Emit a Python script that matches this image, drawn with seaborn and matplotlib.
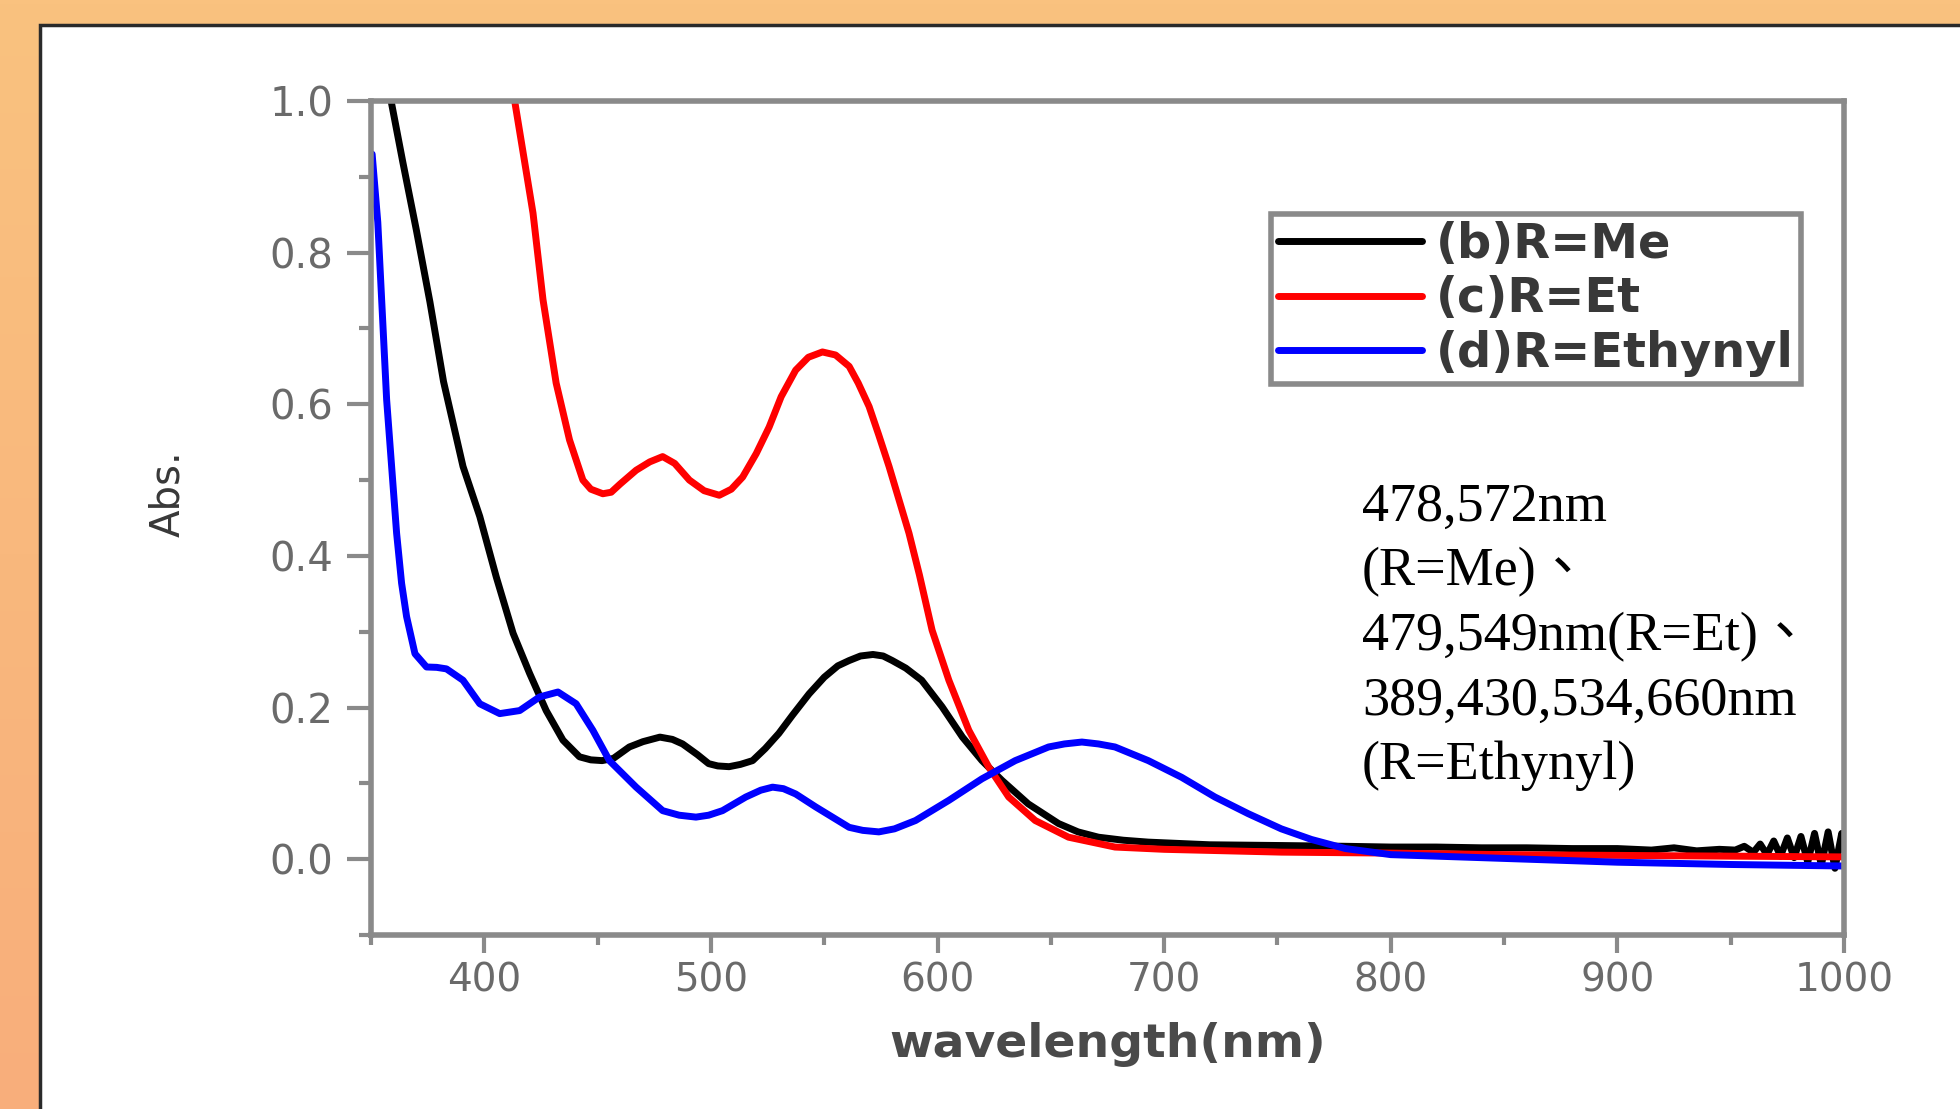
import numpy as np
import pandas as pd
import matplotlib
matplotlib.use("Agg")
import matplotlib.pyplot as plt
from matplotlib.patches import Rectangle
from matplotlib.ticker import MultipleLocator, FixedLocator
import seaborn as sns

# ---------------- data ----------------
me_wl = [356.5, 359, 364, 370, 376, 382, 390.6, 398, 405.3, 412.7, 420, 427.3, 434.7, 442,
         447, 452, 457, 464, 470, 477.5, 483, 487.5, 494, 499, 503, 508, 513, 518.4, 524,
         530, 536, 543.3, 550, 556, 561, 566, 571.5, 576, 580, 586, 593, 602,
         611, 619.6, 628.4, 640, 653.4, 662, 671, 682, 693, 720, 751.7, 780, 800, 820, 840,
         860, 880, 900, 915, 925, 935, 945, 952, 956, 960, 963, 966, 969, 972, 975, 978,
         981, 984, 987, 990, 993, 996, 999, 1000]
me_abs = [1.03, 0.998, 0.92, 0.83, 0.735, 0.63, 0.518, 0.452, 0.372, 0.298, 0.245, 0.196,
          0.157, 0.135, 0.131, 0.130, 0.133, 0.148, 0.155, 0.161, 0.158, 0.152, 0.138, 0.126,
          0.123, 0.122, 0.125, 0.130, 0.146, 0.166, 0.19, 0.218, 0.240, 0.255, 0.262, 0.268,
          0.270, 0.268, 0.262, 0.252, 0.236, 0.201, 0.161, 0.130, 0.104, 0.073, 0.047, 0.036,
          0.029, 0.025, 0.0225, 0.019, 0.018, 0.017, 0.016, 0.016, 0.015, 0.015, 0.014, 0.014,
          0.012, 0.015, 0.011, 0.013, 0.012, 0.017, 0.009, 0.020, 0.006, 0.024, 0.004, 0.028,
          0.002, 0.030, -0.004, 0.034, -0.008, 0.036, -0.012, 0.034, 0.012]

et_wl = [410, 413.4, 421.5, 425.9, 431.7, 437.6, 443.5, 447, 452.3, 456, 460, 467, 473,
         478.7, 484, 490.5, 497, 503.7, 509, 514, 520, 525.7, 531, 537.4, 543, 549.2, 555,
         561, 565, 569.8, 574, 578.6, 587.4, 592, 597.6, 605, 613.8, 622.6,
         631.4, 643.1, 657.8, 678.3, 700, 751.7, 800, 850, 900, 950, 1000]
et_abs = [1.05, 1.0, 0.852, 0.738, 0.628, 0.553, 0.500, 0.488, 0.482, 0.484, 0.495, 0.513,
          0.524, 0.531, 0.522, 0.500, 0.486, 0.480, 0.488, 0.504, 0.535, 0.570, 0.610, 0.645,
          0.662, 0.669, 0.665, 0.650, 0.628, 0.597, 0.560, 0.518, 0.430, 0.375, 0.302, 0.236,
          0.170, 0.1215, 0.082, 0.051, 0.029, 0.016, 0.013, 0.0093, 0.008, 0.006, 0.005,
          0.004, 0.003]

eth_wl = [350.5, 353, 355, 356.9, 359.1, 361.3, 363.5, 365.7, 369.4, 374.5, 379, 383.3, 390.6,
          398, 406.8, 415.6, 424.4, 432.5, 440.5, 447.9, 455.2, 467, 478.7, 486, 493.4, 499,
          505.1, 515.4, 522, 527.2, 532, 537.4, 546.2, 561, 567, 574.1, 581, 590.3, 605, 619.6,
          634.3, 649, 656, 663.7, 671, 678.3, 693, 707.7, 722.4, 737.1, 751.7, 765, 780, 800,
          850, 900, 950, 1000]
eth_abs = [0.93, 0.84, 0.72, 0.606, 0.518, 0.430, 0.364, 0.320, 0.271, 0.2535, 0.253, 0.251,
           0.236, 0.205, 0.192, 0.196, 0.214, 0.2205, 0.205, 0.170, 0.130, 0.095, 0.064,
           0.058, 0.0555, 0.058, 0.064, 0.082, 0.091, 0.095, 0.093, 0.086, 0.069, 0.042, 0.038,
           0.036, 0.040, 0.051, 0.0776, 0.106, 0.130, 0.148, 0.152, 0.1545, 0.152, 0.148,
           0.130, 0.108, 0.082, 0.060, 0.040, 0.026, 0.014, 0.006, 0.001, -0.004, -0.007,
           -0.009]

series_names = ["(b)R=Me", "(c)R=Et", "(d)R=Ethynyl"]
series_colors = ["#000000", "#ff0000", "#0000ff"]
x_ticks = [400, 500, 600, 700, 800, 900, 1000]
y_ticks = [0.0, 0.2, 0.4, 0.6, 0.8, 1.0]
x_label = "wavelength(nm)"
y_label = "Abs."
note_lines = ["478,572nm", "(R=Me)、", "479,549nm(R=Et)、", "389,430,534,660nm", "(R=Ethynyl)"]

df = pd.concat([
    pd.DataFrame({"wl": me_wl, "abs": me_abs, "series": series_names[0]}),
    pd.DataFrame({"wl": et_wl, "abs": et_abs, "series": series_names[1]}),
    pd.DataFrame({"wl": eth_wl, "abs": eth_abs, "series": series_names[2]}),
], ignore_index=True)

# ---------------- figure ----------------
sns.set_style("ticks")
plt.rcParams["font.family"] = ["DejaVu Sans"]

W, H = 1960, 1109
fig = plt.figure(figsize=(W / 100, H / 100), dpi=100)

# orange gradient background
bg = fig.add_axes([0, 0, 1, 1], zorder=-5)
top_c = np.array([250, 194, 127]) / 255
bot_c = np.array([248, 174, 123]) / 255
t = np.linspace(0, 1, 256)[:, None]
grad = (top_c[None, :] * (1 - t) + bot_c[None, :] * t)[:, None, :]
bg.imshow(grad, aspect="auto", extent=[0, 1, 0, 1])
bg.set_axis_off()

# white panel with dark border
panel = Rectangle((40 / W, -0.05), 1.1, 1 - 25 / H + 0.05, transform=fig.transFigure,
                  facecolor="white", edgecolor="#2a2a2a", linewidth=2.5, zorder=-4)
fig.add_artist(panel)

ax = fig.add_axes([371 / W, 1 - 935 / H, (1844 - 371) / W, (935 - 101) / H], zorder=1)
ax.set_facecolor("white")

sns.lineplot(data=df, x="wl", y="abs", hue="series", hue_order=series_names,
             palette=dict(zip(series_names, series_colors)), estimator=None, sort=False,
             linewidth=5.0, ax=ax, legend=False)
for ln in ax.get_lines():
    ln.set_solid_joinstyle("round")
    ln.set_solid_capstyle("round")

ax.set_xlim(350, 1000)
ax.set_ylim(-0.1, 1.0)
ax.xaxis.set_major_locator(FixedLocator(x_ticks))
ax.xaxis.set_minor_locator(MultipleLocator(50))
ax.yaxis.set_major_locator(FixedLocator(y_ticks))
ax.yaxis.set_minor_locator(MultipleLocator(0.1))
ax.set_xticklabels([str(v) for v in x_ticks])
ax.set_yticklabels([f"{v:.1f}" for v in y_ticks])

spine_c = "#8a8a8a"
for s in ax.spines.values():
    s.set_visible(True)
    s.set_color(spine_c)
    s.set_linewidth(4)

ax.tick_params(axis="x", which="major", length=13, width=3, color=spine_c,
               labelsize=28, labelcolor="#6a6a6a", pad=6, direction="out")
ax.tick_params(axis="x", which="minor", length=7, width=3, color=spine_c, direction="out")
ax.tick_params(axis="y", which="major", length=17, width=3, color=spine_c,
               labelsize=29, labelcolor="#6a6a6a", pad=10, direction="out")
ax.tick_params(axis="y", which="minor", length=9, width=3, color=spine_c, direction="out")
ax.tick_params(top=False, right=False, which="both")

ax.set_xlabel(x_label, fontsize=34, fontweight="bold", color="#4a4a4a", labelpad=16)
ax.set_ylabel(y_label, fontsize=29, color="#383838")
ax.yaxis.set_label_coords(-0.124, 0.529)

# legend
handles = [plt.Line2D([], [], color=c, lw=5.0) for c in series_colors]
leg = ax.legend(handles, series_names, loc="upper left",
                bbox_to_anchor=(1271 / W, 1 - 214 / H), bbox_transform=fig.transFigure,
                borderaxespad=0, fancybox=False, framealpha=1, edgecolor="#8a8a8a",
                prop={"size": 34.5, "weight": "bold"}, handlelength=3.0, handletextpad=0.3,
                labelspacing=0.15, borderpad=0.15)
leg.get_frame().set_linewidth(4)
for txt in leg.get_texts():
    txt.set_color("#383838")

# annotation
fig.text(1362 / W, 1 - 482 / H, "\n".join(note_lines), ha="left", va="top",
         fontsize=39, color="black", linespacing=1.37,
         family=["Liberation Serif", "Noto Sans CJK TC"])

fig.savefig("out.png", dpi=100)
